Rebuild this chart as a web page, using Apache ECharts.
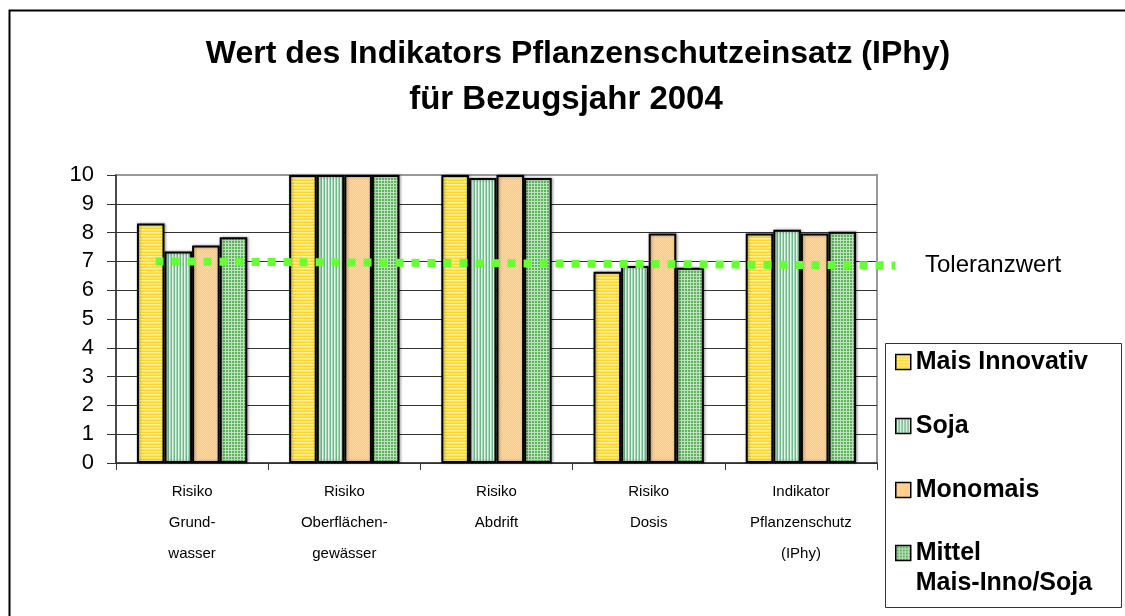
<!DOCTYPE html>
<html>
<head>
<meta charset="utf-8">
<script src="https://cdn.jsdelivr.net/npm/echarts@6/dist/echarts.min.js"></script>
<style>
  html, body { margin: 0; padding: 0; background: #fff; }
  #chart { width: 1125px; height: 616px; }
</style>
</head>
<body>
<div id="chart"></div>
<script>
// Categories (x axis), one group of four bars each
const categories = [
  'Risiko\nGrund-\nwasser',
  'Risiko\nOberflächen-\ngewässer',
  'Risiko\nAbdrift',
  'Risiko\nDosis',
  'Indikator\nPflanzenschutz\n(IPhy)'
];

// Indicator values per cropping system
const maisInnovativ = [8.32, 10, 10, 6.64, 7.97];
const soja          = [7.34, 10, 9.9, 6.84, 8.10];
const monomais      = [7.55, 10, 10, 7.97, 7.97];
const mittel        = [7.84, 10, 9.9, 6.78, 8.03];

// Tolerance line (position along the category band, value)
const toleranzLinie = [[0.26, 7.0], [5.12, 6.86]];

// Y axis ticks
const yTicks = [0, 1, 2, 3, 4, 5, 6, 7, 8, 9, 10];

const seriesNames = ['Mais Innovativ', 'Soja', 'Monomais', 'Mittel Mais-Inno/Soja'];

// Small canvas tiles used as hatch fills
function tile(w, h, draw) {
  const c = document.createElement('canvas');
  c.width = w; c.height = h;
  const ctx = c.getContext('2d');
  draw(ctx);
  return { image: c, repeat: 'repeat' };
}
const fillMais = tile(4, 3, ctx => {
  ctx.fillStyle = '#ffd626'; ctx.fillRect(0, 0, 4, 3);
  ctx.fillStyle = '#fff09a'; ctx.fillRect(0, 1, 4, 1);
  ctx.fillStyle = '#ffe35a'; ctx.fillRect(0, 2, 4, 1);
});
const fillSoja = tile(3, 4, ctx => {
  ctx.fillStyle = '#a9d9ba'; ctx.fillRect(0, 0, 3, 4);
  ctx.fillStyle = '#6fb98c'; ctx.fillRect(0, 0, 1, 4);
  ctx.fillStyle = '#e3f4e8'; ctx.fillRect(1, 0, 1, 4);
});
const fillMono = tile(2, 2, ctx => {
  ctx.fillStyle = '#ffc878'; ctx.fillRect(0, 0, 2, 2);
  ctx.fillStyle = '#ffd8a0'; ctx.fillRect(0, 0, 1, 1);
  ctx.fillStyle = '#ffd8a0'; ctx.fillRect(1, 1, 1, 1);
});
const fillMittel = tile(3, 3, ctx => {
  ctx.fillStyle = '#5fb35f'; ctx.fillRect(0, 0, 3, 3);
  ctx.fillStyle = '#bde3bd'; ctx.fillRect(0, 0, 3, 1);
  ctx.fillStyle = '#bde3bd'; ctx.fillRect(0, 0, 1, 3);
});
const fills = [fillMais, fillSoja, fillMono, fillMittel];
const values = [maisInnovativ, soja, monomais, mittel];

const FONT = "'Liberation Sans', Arial, sans-serif";

const barSeries = seriesNames.map((name, i) => ({
  name: name,
  type: 'bar',
  xAxisIndex: 0,
  yAxisIndex: 0,
  data: values[i],
  barGap: '0%',
  barCategoryGap: '27.5%',
  itemStyle: {
    color: fills[i],
    borderColor: '#000',
    borderWidth: 2,
    shadowColor: 'rgba(0,0,0,0.35)',
    shadowBlur: 3,
    shadowOffsetX: 1,
    shadowOffsetY: 0
  },
  emphasis: { disabled: true }
}));

const chart = echarts.init(document.getElementById('chart'), null, { renderer: 'canvas' });

const titleStyle = {
  fontFamily: FONT,
  fontSize: 32,
  fontWeight: 'bold',
  color: '#000'
};

const legendText = {
  fontFamily: FONT,
  fontSize: 25,
  fontWeight: 'bold',
  color: '#000',
  lineHeight: 30
};

chart.setOption({
  backgroundColor: '#fff',
  animation: false,
  title: [
    {
      text: 'Wert des Indikators Pflanzenschutzeinsatz (IPhy)',
      left: 578,
      top: 38,
      padding: 0,
      textAlign: 'center',
      textStyle: titleStyle
    },
    {
      text: 'für Bezugsjahr 2004',
      left: 566,
      top: 83,
      padding: 0,
      textAlign: 'center',
      textStyle: Object.assign({}, titleStyle, { fontSize: 33 })
    }
  ],
  legend: [
    {
      data: seriesNames.slice(0, 3),
      orient: 'vertical',
      left: 895,
      top: 347,
      padding: 0,
      itemGap: 34,
      itemWidth: 15,
      itemHeight: 15,
      icon: 'rect',
      selectedMode: false,
      itemStyle: { borderColor: '#000', borderWidth: 1.5, shadowBlur: 0 },
      textStyle: legendText
    },
    {
      // blank first line keeps the swatch level with "Mittel"
      data: [seriesNames[3]],
      orient: 'vertical',
      left: 895,
      top: 508,
      padding: 0,
      itemWidth: 15,
      itemHeight: 15,
      icon: 'rect',
      selectedMode: false,
      formatter: () => ' \nMittel\nMais-Inno/Soja',
      itemStyle: { borderColor: '#000', borderWidth: 1.5, shadowBlur: 0 },
      textStyle: legendText
    }
  ],
  grid: [
    {
      left: 116,
      right: 248,
      top: 175,
      bottom: 153,
      show: true,
      borderColor: '#999',
      borderWidth: 2,
      backgroundColor: 'transparent'
    },
    {
      // same vertical scale, stretched right so the tolerance line can run past the plot
      left: 116,
      right: 230,
      top: 175,
      bottom: 153,
      show: false
    }
  ],
  xAxis: [
    {
      type: 'category',
      gridIndex: 0,
      data: categories,
      axisLine: { show: true, lineStyle: { color: '#333', width: 1.5 } },
      axisTick: { show: true, length: 7, lineStyle: { color: '#333' } },
      axisLabel: {
        fontFamily: FONT,
        fontSize: 15,
        lineHeight: 31,
        margin: 13,
        color: '#000',
        interval: 0
      },
      splitLine: { show: false }
    },
    {
      type: 'value',
      gridIndex: 1,
      min: 0,
      max: 5.12,
      show: false,
      splitLine: { show: false }
    }
  ],
  yAxis: [
    {
      type: 'value',
      gridIndex: 0,
      min: yTicks[0],
      max: yTicks[yTicks.length - 1],
      interval: 1,
      axisLine: { show: true, lineStyle: { color: '#333', width: 1.5 } },
      axisTick: { show: true, inside: false, length: 9, lineStyle: { color: '#333' } },
      axisLabel: {
        fontFamily: FONT,
        fontSize: 22,
        margin: 22,
        color: '#000'
      },
      splitLine: {
        show: true,
        lineStyle: {
          color: ['#333', '#333', '#333', '#333', '#333', '#333', '#333', '#333', '#333', '#333', '#999'],
          width: 1.2
        }
      }
    },
    {
      type: 'value',
      gridIndex: 1,
      min: yTicks[0],
      max: yTicks[yTicks.length - 1],
      show: false,
      splitLine: { show: false }
    }
  ],
  series: barSeries.concat([
    {
      name: 'Toleranzwert',
      type: 'line',
      xAxisIndex: 1,
      yAxisIndex: 1,
      data: toleranzLinie,
      clip: false,
      symbol: 'none',
      silent: true,
      z: 5,
      lineStyle: { color: '#66ff33', width: 8, type: [8, 8], cap: 'butt' },
      endLabel: {
        show: true,
        formatter: 'Toleranzwert',
        distance: 30,
        fontFamily: FONT,
        fontSize: 24,
        color: '#000'
      },
      emphasis: { disabled: true }
    }
  ]),
  graphic: [
    {
      type: 'rect',
      left: 7,
      top: 8,
      shape: { width: 1140, height: 630 },
      style: { fill: 'none', stroke: '#000', lineWidth: 2 },
      silent: true
    },
    {
      type: 'rect',
      left: 885,
      top: 343,
      shape: { width: 236, height: 264 },
      style: { fill: '#fff', stroke: '#333', lineWidth: 1 },
      z: -1,
      silent: true
    }
  ]
});
</script>
</body>
</html>
